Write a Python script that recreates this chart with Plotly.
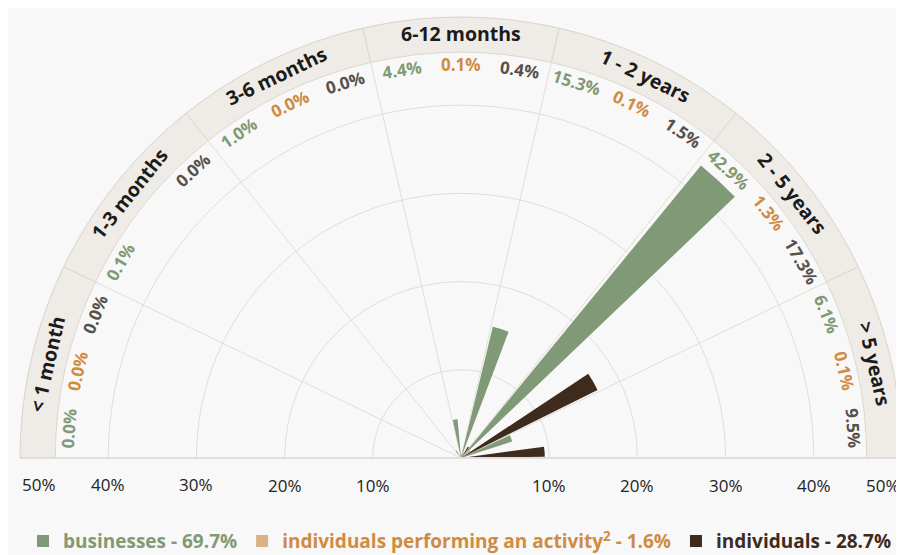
import math
import plotly.graph_objects as go

# ---------------- data ----------------
categories = ["< 1 month", "1-3 months", "3-6 months", "6-12 months",
              "1 - 2 years", "2 - 5 years", "> 5 years"]
businesses = [0.0, 0.1, 1.0, 4.4, 15.3, 42.9, 6.1]
activity = [0.0, 0.0, 0.0, 0.1, 0.1, 1.3, 0.1]
individuals = [0.0, 0.0, 0.0, 0.4, 1.5, 17.3, 9.5]
activity_label_shown = [True, False, True, True, True, True, True]

radial_ticks = [10, 20, 30, 40, 50]
radial_tick_text = ["10%", "20%", "30%", "40%", "50%"]

legend_names = [
    "businesses - 69.7%",
    "individuals performing an activity<sup>2</sup> - 1.6%",
    "individuals - 28.7%",
]

# ---------------- style ----------------
GREEN = "#809a77"
TAN = "#d9b285"
DARK = "#3e2b1e"
GREEN_TXT = "#7f9a75"
ORANGE_TXT = "#d08b43"
DARK_TXT = "#57514d"
BG = "#f8f8f8"
FONT = "Open Sans"

n = len(categories)
step = 180.0 / n
centers = [180 - (i + 0.5) * step for i in range(n)]
th_green = [c + step / 3 for c in centers]
th_act = centers
th_dark = [c - step / 3 for c in centers]
boundaries = [i * step for i in range(n + 1)]

RMAX = 50
BAND_BASE = 46
BAR_W = 7

W, H = 904, 555
xa, xb = 12 / W, 894 / W
ya, yb = 105 / H, 546 / H
cx = (xa + xb) / 2
Rx = (xb - xa) / 2
Ry = yb - ya


def pos(r, th):
    a = math.radians(th)
    return cx + r / RMAX * Rx * math.cos(a), ya + r / RMAX * Ry * math.sin(a)


fig = go.Figure()

# outer band
fig.add_trace(go.Barpolar(
    r=[RMAX - BAND_BASE] * n, base=[BAND_BASE] * n, theta=centers, width=[step] * n,
    marker=dict(color="#efece7", line=dict(color="#dcd7cb", width=1)),
    showlegend=False, hoverinfo="skip"))

fig.add_trace(go.Barpolar(
    r=businesses, theta=th_green, width=[BAR_W] * n,
    name=f"<span style='color:{GREEN_TXT}'>{legend_names[0]}</span>",
    marker=dict(color=GREEN, line=dict(width=0))))
fig.add_trace(go.Barpolar(
    r=activity, theta=th_act, width=[BAR_W] * n,
    name=f"<span style='color:{ORANGE_TXT}'>{legend_names[1]}</span>",
    marker=dict(color=TAN, line=dict(width=0))))
fig.add_trace(go.Barpolar(
    r=individuals, theta=th_dark, width=[BAR_W] * n,
    name=f"<span style='color:{DARK}'>{legend_names[2]}</span>",
    marker=dict(color=DARK, line=dict(width=0))))

annotations = []
for i, cat in enumerate(categories):
    x, y = pos(48.1, centers[i])
    annotations.append(dict(x=x, y=y, xref="paper", yref="paper", text=cat, showarrow=False,
                            textangle=90 - centers[i], xanchor="center", yanchor="middle",
                            font=dict(family=FONT, size=19.5, color="#1b1b1b", weight="bold")))
    for vals, ths, col, shown in ((businesses, th_green, GREEN_TXT, True),
                                  (activity, th_act, ORANGE_TXT, activity_label_shown[i]),
                                  (individuals, th_dark, DARK_TXT, True)):
        if not shown:
            continue
        x, y = pos(44.6, ths[i])
        annotations.append(dict(x=x, y=y, xref="paper", yref="paper", text=f"{vals[i]:.1f}%",
                                showarrow=False, textangle=90 - ths[i], xanchor="center",
                                yanchor="middle",
                                font=dict(family=FONT, size=17, color=col, weight="bold")))

# radial tick labels on both sides of the baseline
tick_dy = 27 / H
for t, txt in zip(radial_ticks, radial_tick_text):
    for side in (0, 180):
        x, y = pos(t, side)
        if t == RMAX:
            anchor = "right" if side == 0 else "left"
        else:
            anchor = "center"
        annotations.append(dict(x=x, y=y - tick_dy, xref="paper", yref="paper", text=txt,
                                showarrow=False, xanchor=anchor, yanchor="middle",
                                font=dict(family=FONT, size=17, color="#222222")))

fig.update_layout(
    width=W, height=H,
    margin=dict(l=0, r=0, t=0, b=0),
    paper_bgcolor=BG,
    plot_bgcolor=BG,
    polar=dict(
        domain=dict(x=[xa, xb], y=[ya, yb]),
        sector=[0, 180],
        bgcolor=BG,
        radialaxis=dict(range=[0, RMAX], angle=0, tickmode="array", tickvals=radial_ticks,
                        showticklabels=False, ticks="", showline=True, linecolor="#dedede",
                        linewidth=2, gridcolor="#dedede"),
        angularaxis=dict(thetaunit="degrees", direction="counterclockwise", rotation=0,
                         tickmode="array", tickvals=boundaries, showticklabels=False,
                         ticks="", gridcolor="#e2ded5", showline=True,
                         linecolor="#dcd7cb", linewidth=1),
    ),
    legend=dict(orientation="h", x=0.5, xanchor="center", y=0.005, yanchor="bottom",
                font=dict(family=FONT, size=19, weight="bold", color="#333"),
                itemclick=False, traceorder="normal", bgcolor="rgba(0,0,0,0)"),
    annotations=annotations,
)

fig.write_html("out.html")
